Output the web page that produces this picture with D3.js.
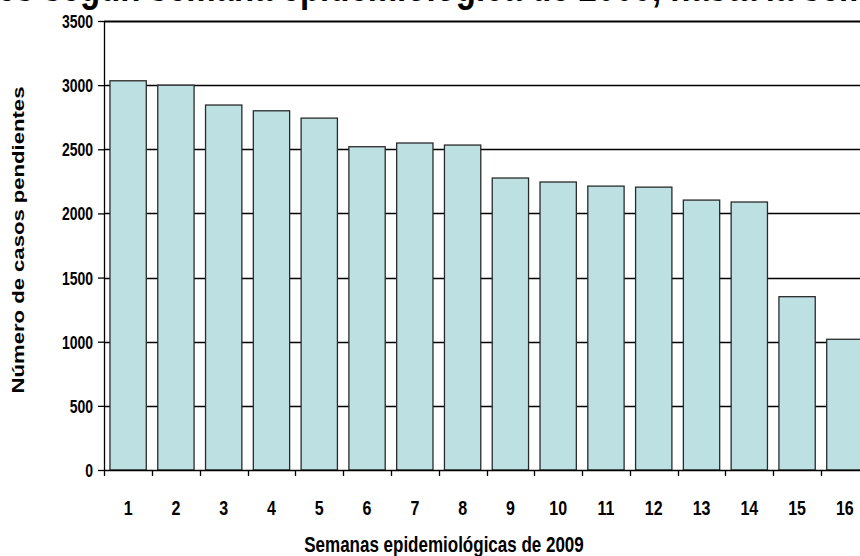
<!DOCTYPE html>
<html>
<head>
<meta charset="utf-8">
<script src="https://cdn.jsdelivr.net/npm/d3@7"></script>
<style>
  body { margin: 0; background: #fff; }
  text { font-family: "Liberation Sans", Arial, sans-serif; font-weight: bold; }
</style>
</head>
<body>
<div id="chartContainer"></div>
<script>
// Data
const weeks = ["1", "2", "3", "4", "5", "6", "7", "8", "9", "10", "11", "12", "13", "14", "15", "16"];
const pending = [3034, 3000, 2845, 2800, 2743, 2520, 2549, 2533, 2276, 2245, 2213, 2205, 2104, 2089, 1351, 1019];
const yTicks = [0, 500, 1000, 1500, 2000, 2500, 3000, 3500];

const titlePrefix = "Número de casos pendientes ";
const titleText = "según semana epidemiológica de 2009, hasta la semana 16";
const xTitle = "Semanas epidemiológicas de 2009";
const yTitle = "Número de casos pendientes";

// the original picture is stretched vertically, text included
const stretch = 1.3;

const W = 860, H = 556;
const margin = { top: 21, right: -9, bottom: 86, left: 104 };
const width = W - margin.left - margin.right;
const height = H - margin.top - margin.bottom;

const svg = d3.select("#chartContainer")
    .append("svg")
    .attr("width", W)
    .attr("height", H)
    .style("display", "block");

const g = svg.append("g")
    .attr("transform", "translate(" + margin.left + "," + margin.top + ")");

// Scales
const xScale = d3.scaleBand()
    .domain(weeks)
    .range([0, width])
    .paddingInner(0.24)
    .paddingOuter(0.125);

const yScale = d3.scaleLinear()
    .domain([0, 3500])
    .range([height, 0]);

// Gridlines
g.append("g")
    .selectAll("line")
    .data(yTicks.filter(d => d > 0))
    .enter()
    .append("line")
    .attr("x1", 0)
    .attr("x2", width)
    .attr("y1", d => Math.round(yScale(d)) + 0.5)
    .attr("y2", d => Math.round(yScale(d)) + 0.5)
    .attr("stroke", "#000")
    .attr("stroke-width", d => d === 3500 ? 2 : 1.4);

// Bars
g.selectAll(".bar")
    .data(pending)
    .enter()
    .append("rect")
    .attr("class", "bar")
    .attr("x", (d, i) => xScale(weeks[i]))
    .attr("y", d => yScale(d))
    .attr("width", xScale.bandwidth())
    .attr("height", d => height - yScale(d))
    .attr("fill", "#bde0e3")
    .attr("stroke", "#2a2a2a")
    .attr("stroke-width", 1.3);

// Y axis
const yAxis = g.append("g")
    .call(d3.axisLeft(yScale).tickValues(yTicks).tickFormat(d3.format("d"))
        .tickSize(6).tickPadding(5).tickSizeOuter(0));
yAxis.selectAll("line").attr("stroke", "#000").attr("stroke-width", 1.3);
yAxis.select(".domain").attr("stroke", "#000").attr("stroke-width", 1.3);
yAxis.selectAll("text")
    .attr("dy", "0.36em")
    .attr("transform", "scale(1," + stretch + ")")
    .style("font-size", "14px")
    .attr("fill", "#000");

// X axis with ticks at band boundaries
const half = xScale.step() * xScale.paddingInner() / 2;
const bounds = weeks.map((w, i) => i === 0 ? 0 : xScale(w) - half);
const xAxisG = g.append("g")
    .attr("transform", "translate(0," + height + ")");
xAxisG.append("line")
    .attr("x1", 0).attr("x2", width)
    .attr("y1", 0.5).attr("y2", 0.5)
    .attr("stroke", "#000")
    .attr("stroke-width", 1.3);
xAxisG.selectAll(".tick")
    .data(bounds)
    .enter()
    .append("line")
    .attr("x1", d => Math.round(d) + 0.5)
    .attr("x2", d => Math.round(d) + 0.5)
    .attr("y1", 0)
    .attr("y2", 6)
    .attr("stroke", "#000")
    .attr("stroke-width", 1.3);
xAxisG.selectAll(".lbl")
    .data(weeks)
    .enter()
    .append("text")
    .attr("transform", d => "translate(" + (xScale(d) + xScale.bandwidth() / 2) + ",44.5) scale(1," + stretch + ")")
    .attr("text-anchor", "middle")
    .style("font-size", "16px")
    .text(d => d);

// Axis titles
svg.append("text")
    .attr("transform", "translate(444,552) scale(1," + stretch + ")")
    .attr("text-anchor", "middle")
    .style("font-size", "17px")
    .text(xTitle);

svg.append("text")
    .attr("transform", "translate(24,240) scale(1," + stretch + ") rotate(-90)")
    .attr("text-anchor", "middle")
    .style("font-size", "17px")
    .text(yTitle);

// Title, cut off at the top edge as in the original; "g" of "según" sits near x = 80
const title = svg.append("text")
    .attr("text-anchor", "start")
    .style("font-size", "33px")
    .text(titlePrefix + titleText);
const offset = title.node().getSubStringLength(0, titlePrefix.length + 2);
title.attr("transform", "translate(" + (80 - offset) + ",0.5) scale(1," + stretch + ")");
</script>
</body>
</html>
